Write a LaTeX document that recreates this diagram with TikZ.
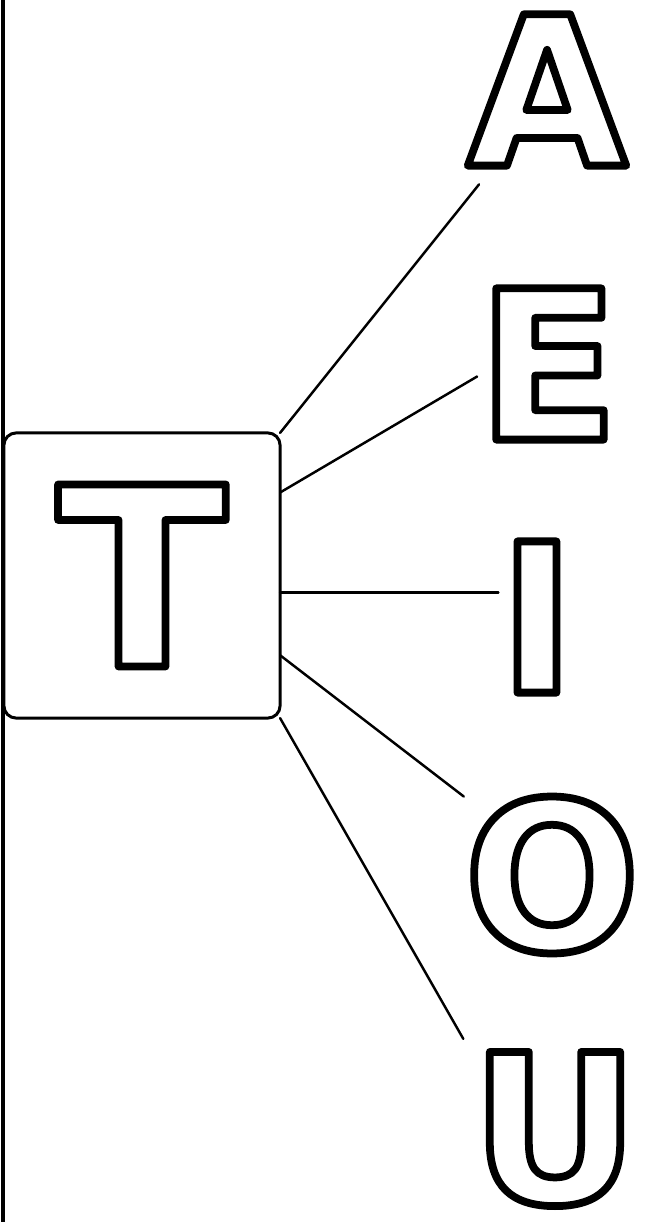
\documentclass[tikz,border=0pt]{standalone}
\usepackage{fontspec}
\newfontfamily\lettfont{DejaVu Sans}
\usetikzlibrary{calc}
% outlined glyphs: text render mode 1 (stroke only)
\newcommand\hollow[1]{\special{pdf:literal direct 1 Tr 2.2 w 1 j}#1\special{pdf:literal direct 0 Tr}}
\tikzset{
  letter/.style={inner sep=0pt, outer sep=0pt, font=\lettfont\bfseries\fontsize{59}{59}\selectfont},
  link/.style={line width=0.7pt}
}

\begin{document}
\begin{tikzpicture}[x=0.01cm, y=-0.01cm, line join=round, line cap=round]
\useasboundingbox (0,0) rectangle (648,1222);
\draw[line width=1.1pt] (3,0) -- (3,1222);
\node[draw, line width=0.85pt, rounded corners=3.5pt, minimum width=2.76cm, minimum height=2.85cm,
      inner sep=0pt, outer sep=0pt, font=\lettfont\bfseries\fontsize{71}{71}\selectfont] (T) at (142,575.5) {\hollow{T}\hspace{0.6cm}};
\node[letter] (A) at (547,90) {\hollow{A}};
\node[letter] (E) at (548,364) {\hollow{E}};
\node[letter] (I) at (537,617) {\hollow{I}};
\node[letter] (O) at (552,875) {\hollow{O}};
\node[letter] (U) at (555,1129) {\hollow{U}};
\draw[link, shorten >=0.24cm] (T.north east) -- (A.235);
\draw[link] (T.31.7) -- (E.190);
\draw[link] (T.-7) -- (T.-7 -| I.west);
\draw[link] (T.-30) -- (O.north west);
\draw[link, shorten >=0.15cm] (T.south east) -- (U.north west);
\end{tikzpicture}
\end{document}
